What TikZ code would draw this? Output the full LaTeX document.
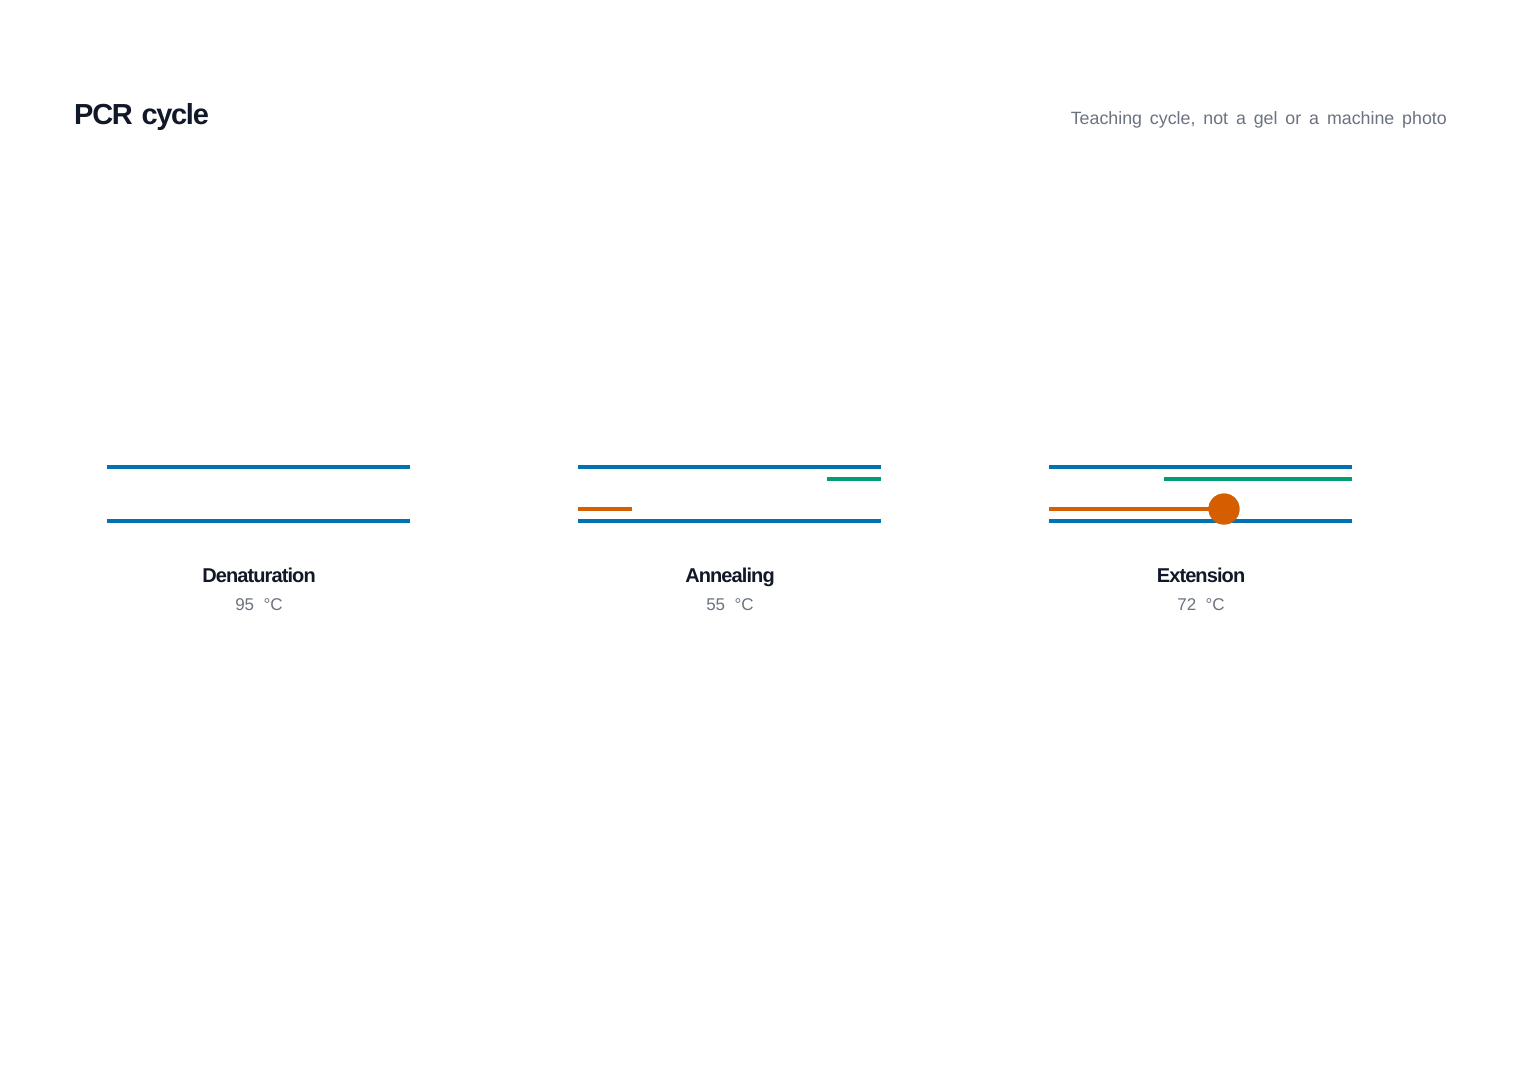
\documentclass[tikz,border=0pt]{standalone}
\usepackage{fontspec}
\setmainfont{Liberation Sans}
\newfontfamily\tightbold[LetterSpace=-4.5,BoldFont={* Bold}]{Liberation Sans}
\definecolor{ink}{HTML}{111827}
\definecolor{muted}{HTML}{6B7280}
\definecolor{strandblue}{HTML}{0072B2}
\definecolor{primergreen}{HTML}{009E73}
\definecolor{primerorange}{HTML}{D55E00}
\begin{document}
\begin{tikzpicture}[x=1pt,y=-1pt,
  template/.style={draw=strandblue,line width=4pt},
  fwd/.style={draw=primergreen,line width=4pt},
  rev/.style={draw=primerorange,line width=4pt},
  stagelabel/.style={font=\tightbold\fontsize{20}{24}\selectfont\bfseries,text=ink,anchor=base,inner sep=0pt},
  templabel/.style={font=\fontsize{17}{20}\selectfont,text=muted,anchor=base,inner sep=0pt},
]
\useasboundingbox[fill=white] (0,0) rectangle (1520,1080);
\node[anchor=base west,inner sep=0pt,font=\tightbold\fontsize{29}{34}\selectfont\bfseries,text=ink] (title) at (74,124) {PCR\hspace{0.3em}cycle};
\node[anchor=base east,inner sep=0pt,font=\fontsize{17.8}{21}\selectfont,text=muted] (subtitle) at (1447,124) {Teaching\ \,cycle,\ \,not\ \,a\ \,gel\ \,or\ \,a\ \,machine\ \,photo};

% Panel 1: denaturation
\coordinate (d1a) at (107,467); \coordinate (d1b) at (410,467);
\coordinate (d2a) at (107,521); \coordinate (d2b) at (410,521);
\draw[template] (d1a) -- (d1b);
\draw[template] (d2a) -- (d2b);
\node[stagelabel] (denlab) at (259,582) {Denaturation};
\node[templabel] (dentemp) at (259,610) {95\ \ °C};

% Panel 2: annealing
\coordinate (a1a) at (578,467); \coordinate (a1b) at (881,467);
\coordinate (a2a) at (578,521); \coordinate (a2b) at (881,521);
\coordinate (agA) at (827,479); \coordinate (agB) at (881,479);
\coordinate (aoA) at (578,509); \coordinate (aoB) at (632,509);
\draw[template] (a1a) -- (a1b);
\draw[template] (a2a) -- (a2b);
\draw[fwd] (agA) -- (agB);
\draw[rev] (aoA) -- (aoB);
\node[stagelabel] (annlab) at (730,582) {Annealing};
\node[templabel] (anntemp) at (730,610) {55\ \ °C};

% Panel 3: extension
\coordinate (e1a) at (1049,467); \coordinate (e1b) at (1352,467);
\coordinate (e2a) at (1049,521); \coordinate (e2b) at (1352,521);
\coordinate (egA) at (1164,479); \coordinate (egB) at (1352,479);
\coordinate (eoA) at (1049,509);
\draw[template] (e1a) -- (e1b);
\draw[template] (e2a) -- (e2b);
\draw[fwd] (egA) -- (egB);
\node[circle,fill=primerorange,minimum size=31pt,inner sep=0pt] (pol) at (1224,509) {};
\draw[rev] (eoA) -- (pol.center);
\node[circle,fill=primerorange,minimum size=31pt,inner sep=0pt] at (pol) {};
\node[stagelabel] (extlab) at (1201,582) {Extension};
\node[templabel] (exttemp) at (1201,610) {72\ \ °C};
\end{tikzpicture}
\end{document}
